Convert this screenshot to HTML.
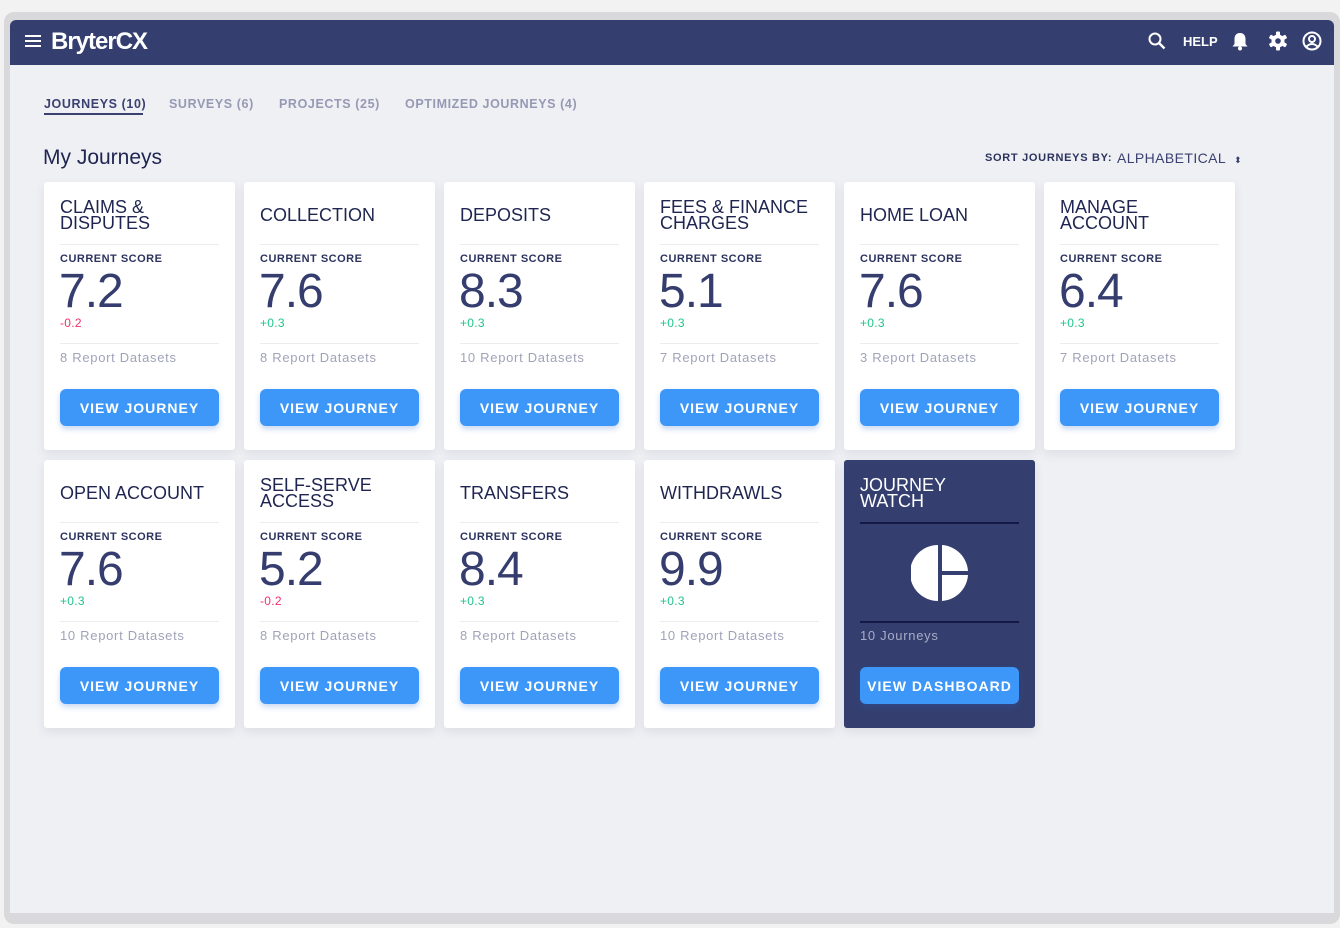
<!DOCTYPE html>
<html><head><meta charset="utf-8"><style>
*{box-sizing:border-box;margin:0;padding:0}
body{width:1340px;height:928px;background:#f2f2f3;font-family:"Liberation Sans",sans-serif;position:relative;overflow:hidden}
.frame{position:absolute;left:4px;top:12px;width:1336px;height:912px;background:#d9d9db;border-radius:10px}
.app{position:absolute;left:10px;top:20px;width:1324px;height:893px;background:#eff0f4;border-radius:6px 6px 0 0;overflow:hidden}
.hdr{position:absolute;left:0;top:0;width:1324px;height:45px;background:#343f70}
.abs{position:absolute}
.tab{position:absolute;top:77px;font-size:12.5px;font-weight:bold;letter-spacing:.6px;color:#9599b4}
.card{position:absolute;width:191px;height:268px;background:#fff;border-radius:3px;box-shadow:0 4px 10px rgba(60,70,110,.10)}
.card .t{position:absolute;left:16px;top:16px;width:165px;height:34px;display:flex;align-items:center;font-size:18px;line-height:16px;color:#1f2550;letter-spacing:0}
.card .d1,.card .d2{position:absolute;left:16px;width:159px;height:1px;background:#ececf0}
.card .d1{top:62px}.card .d2{top:161px}
.card .cs{position:absolute;left:16px;top:71px;font-size:11px;font-weight:bold;color:#2c335e;letter-spacing:.5px}
.card .sc{position:absolute;left:15px;top:82px;font-size:48px;color:#343d6e;letter-spacing:-1px}
.card .dl{position:absolute;left:16px;top:134px;font-size:12px;letter-spacing:.3px}
.card .rd{position:absolute;left:16px;top:168px;font-size:13px;color:#a0a3b8;letter-spacing:.7px}
.card .btn{position:absolute;left:16px;top:207px;width:159px;height:37px;background:#3d97f9;border-radius:6px;color:#fff;font-size:14px;font-weight:bold;letter-spacing:1px;display:flex;align-items:center;justify-content:center;box-shadow:0 3px 6px rgba(40,100,200,.25)}
.pos{color:#22c58a}.neg{color:#f0306a}
.dark{background:#343f70}
.dark .t{color:#fff}
.dark .d1,.dark .d2{background:#141a45;height:2px}
</style></head><body>
<div class="frame"></div>
<div class="app">
<div class="hdr">
 <svg class="abs" style="left:15px;top:14px" width="16" height="14"><rect y="1" width="16" height="2" fill="#fff"/><rect y="6" width="16" height="2" fill="#fff"/><rect y="11" width="16" height="2" fill="#fff"/></svg>
 <div class="abs" style="left:41px;top:8px;font-size:24px;font-weight:bold;color:#fff;letter-spacing:-1px">BryterCX</div>
 <svg class="abs" style="left:1138px;top:12px" width="18" height="18"><circle cx="7" cy="7" r="5.5" stroke="#fff" stroke-width="2" fill="none"/><line x1="11" y1="11" x2="16.5" y2="16.5" stroke="#fff" stroke-width="2.4"/></svg>
 <div class="abs" style="left:1173px;top:14px;font-size:13px;font-weight:bold;color:#fff">HELP</div>
 <svg class="abs" style="left:1221px;top:11px" width="18" height="20"><path d="M9 2 C5 2 3.5 5 3.5 8 V13 L1.5 15.5 H16.5 L14.5 13 V8 C14.5 5 13 2 9 2Z" fill="#fff"/><circle cx="9" cy="17.5" r="2" fill="#fff"/></svg>
 <svg class="abs" style="left:1258px;top:11px" width="20" height="20" viewBox="0 0 20 20"><g fill="#fff"><circle cx="10" cy="10" r="6.5"/><rect x="8" y="0.5" width="4" height="19" rx="1"/><rect x="8" y="0.5" width="4" height="19" rx="1" transform="rotate(60 10 10)"/><rect x="8" y="0.5" width="4" height="19" rx="1" transform="rotate(120 10 10)"/></g><circle cx="10" cy="10" r="2.8" fill="#343f70"/></svg>
 <svg class="abs" style="left:1292px;top:11px" width="20" height="20"><circle cx="10" cy="10" r="8.5" stroke="#fff" stroke-width="2" fill="none"/><circle cx="10" cy="8" r="3" stroke="#fff" stroke-width="2" fill="none"/><path d="M4.5 15.5 Q10 10.5 15.5 15.5" stroke="#fff" stroke-width="2" fill="none"/></svg>
</div>
<div class="tab" style="left:34px;color:#3a4170">JOURNEYS (10)</div>
<div class="abs" style="left:34px;top:93px;width:99px;height:2px;background:#3a4170"></div>
<div class="tab" style="left:159px">SURVEYS (6)</div>
<div class="tab" style="left:269px">PROJECTS (25)</div>
<div class="tab" style="left:395px">OPTIMIZED JOURNEYS (4)</div>
<div class="abs" style="left:33px;top:126px;font-size:21px;color:#1f2550">My Journeys</div>
<div class="abs" style="left:975px;top:132px;font-size:11px;font-weight:bold;color:#2c335e;letter-spacing:.7px">SORT JOURNEYS BY:</div>
<div class="abs" style="left:1107px;top:130px;font-size:14px;color:#3a4170;letter-spacing:.4px">ALPHABETICAL<span style="font-size:9px;margin-left:8px">⬍</span></div>
</div>
<div id="cards"></div>
<script>
const titles=["CLAIMS &amp; DISPUTES","COLLECTION","DEPOSITS","FEES &amp; FINANCE CHARGES","HOME LOAN","MANAGE ACCOUNT","OPEN ACCOUNT","SELF-SERVE ACCESS","TRANSFERS","WITHDRAWLS"];
const scores=["7.2","7.6","8.3","5.1","7.6","6.4","7.6","5.2","8.4","9.9"];
const deltas=["-0.2","+0.3","+0.3","+0.3","+0.3","+0.3","+0.3","-0.2","+0.3","+0.3"];
const datasets=[8,8,10,7,3,7,10,8,8,10];
const wrap=document.getElementById('cards');
function pos(i){return {x:44+(i%6)*200,y:182+Math.floor(i/6)*278};}
titles.forEach((t,i)=>{
 const p=pos(i);const c=document.createElement('div');
 c.className='card';c.style.left=p.x+'px';c.style.top=p.y+'px';
 
 
 c.innerHTML=`<div class="t">${t}</div><div class="d1"></div>
 <div class="cs">CURRENT SCORE</div>
 <div class="sc">${scores[i]}</div>
 <div class="dl ${deltas[i][0]=='-'?'neg':'pos'}">${deltas[i]}</div><div class="d2"></div>
 <div class="rd">${datasets[i]} Report Datasets</div>
 <div class="btn">VIEW JOURNEY</div>`;
 wrap.appendChild(c);
});
const p=pos(10);const w=document.createElement('div');
w.className='card dark';w.style.left=p.x+'px';w.style.top=p.y+'px';


w.innerHTML=`<div class="t">JOURNEY<br>WATCH</div><div class="d1"></div>
<svg style="position:absolute;left:67px;top:84px" width="58" height="58"><path d="M27 1 A28 28 0 0 0 27 57Z" fill="#fff"/><path d="M31 1 A28 28 0 0 1 57 27 H31Z" fill="#fff"/><path d="M31 31 H57 A28 28 0 0 1 31 57Z" fill="#fff"/></svg>
<div class="d2"></div>
<div class="rd" style="color:#a7acc6">10 Journeys</div>
<div class="btn">VIEW DASHBOARD</div>`;
wrap.appendChild(w);
</script>
</body></html>
